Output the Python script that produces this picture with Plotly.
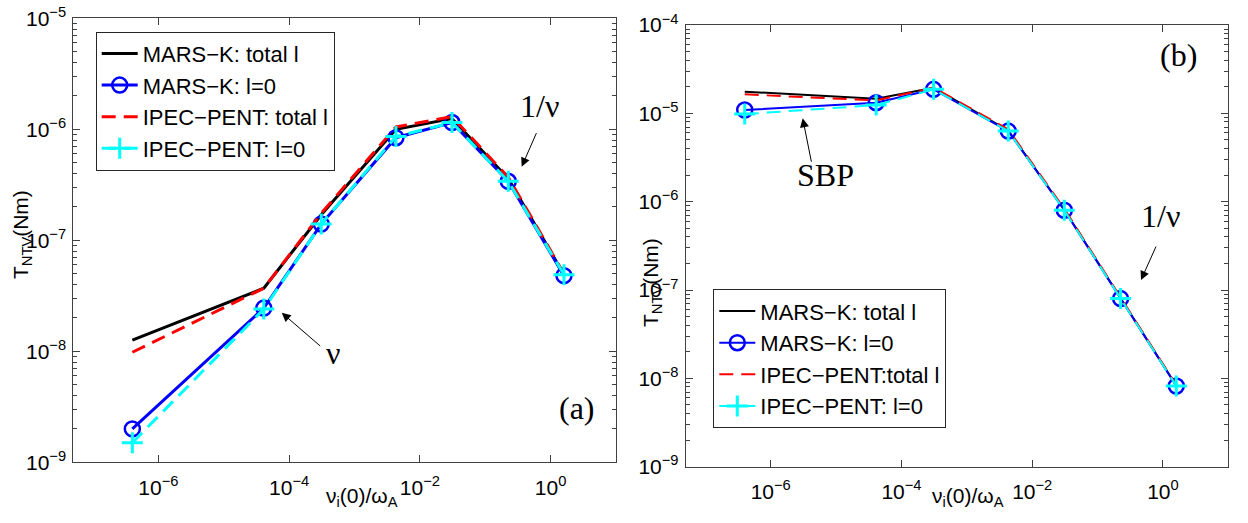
import plotly.graph_objects as go
import math

# ---- data ----
nu = [4.0e-7, 4.1e-5, 3.1e-4, 4.3e-3, 3.1e-2, 0.225, 1.6]

a_mars_total = [1.26e-8, 3.7e-8, 1.7e-7, 1.0e-6, 1.25e-6, 3.6e-7, 4.9e-8]
a_mars_l0 = [2.0e-9, 2.45e-8, 1.4e-7, 8.4e-7, 1.15e-6, 3.4e-7, 4.8e-8]
a_ipec_total = [9.8e-9, 3.7e-8, 1.75e-7, 1.05e-6, 1.3e-6, 3.7e-7, 5.0e-8]
a_ipec_l0 = [1.5e-9, 2.4e-8, 1.4e-7, 8.6e-7, 1.15e-6, 3.4e-7, 4.9e-8]

b_mars_total = [1.76e-5, 1.46e-5, 1.95e-5, 6.4e-6, 8.1e-7, 8.1e-8, 8.3e-9]
b_mars_l0 = [1.09e-5, 1.32e-5, 1.87e-5, 6.3e-6, 8.0e-7, 8.0e-8, 8.2e-9]
b_ipec_total = [1.64e-5, 1.4e-5, 1.95e-5, 6.6e-6, 8.3e-7, 8.3e-8, 8.4e-9]
b_ipec_l0 = [9.8e-6, 1.24e-5, 1.87e-5, 6.3e-6, 8.0e-7, 8.0e-8, 8.2e-9]

names_a = ["MARS\u2212K: total l", "MARS\u2212K: l=0", "IPEC\u2212PENT: total l", "IPEC\u2212PENT: l=0"]
names_b = ["MARS\u2212K: total l", "MARS\u2212K: l=0", "IPEC\u2212PENT:total l", "IPEC\u2212PENT: l=0"]

x_tickvals = [1e-6, 1e-4, 1e-2, 1e0]
x_ticktext = ["10<sup>\u22126</sup>", "10<sup>\u22124</sup>", "10<sup>\u22122</sup>", "10<sup>0</sup>"]
ya_tickvals = [1e-9, 1e-8, 1e-7, 1e-6, 1e-5]
ya_ticktext = ["10<sup>\u22129</sup>", "10<sup>\u22128</sup>", "10<sup>\u22127</sup>", "10<sup>\u22126</sup>", "10<sup>\u22125</sup>"]
yb_tickvals = [1e-9, 1e-8, 1e-7, 1e-6, 1e-5, 1e-4]
yb_ticktext = ["10<sup>\u22129</sup>", "10<sup>\u22128</sup>", "10<sup>\u22127</sup>", "10<sup>\u22126</sup>", "10<sup>\u22125</sup>", "10<sup>\u22124</sup>"]

W, H = 1248, 523
SANS = "Liberation Sans, Arial, Helvetica, sans-serif"
SERIF = "Liberation Serif, Times New Roman, serif"

fig = go.Figure()


def add_panel(xax, yax, leg, ys, names, lw):
    styles = [
        dict(color="#000000", dash="solid", marker=None),
        dict(color="#0000FF", dash="solid", marker=dict(symbol="circle-open", size=15, line=dict(width=2.5, color="#0000FF"))),
        dict(color="#FF0000", dash="14px,8px", marker=None),
        dict(color="#00FFFF", dash="14px,8px", marker=dict(symbol="cross-thin-open", size=15, line=dict(width=3, color="#00FFFF"))),
    ]
    for y, name, st in zip(ys, names, styles):
        mode = "lines+markers" if st["marker"] else "lines"
        tr = dict(x=nu, y=y, name=name, mode=mode, xaxis=xax, yaxis=yax, legend=leg,
                  line=dict(color=st["color"], width=lw, dash=st["dash"]))
        if st["marker"]:
            tr["marker"] = st["marker"]
        fig.add_trace(go.Scatter(**tr))


add_panel("x", "y", "legend", [a_mars_total, a_mars_l0, a_ipec_total, a_ipec_l0], names_a, 3)
add_panel("x2", "y2", "legend2", [b_mars_total, b_mars_l0, b_ipec_total, b_ipec_l0], names_b, 2)

axcol = "#404040"
common = dict(type="log", showline=True, linecolor=axcol, linewidth=1, mirror="allticks",
              ticks="inside", ticklen=7, tickcolor=axcol, showgrid=False, zeroline=False,
              tickfont=dict(family=SANS, size=21, color="black"), automargin=False)


def minor_vals(lo, hi):
    return [m * 10 ** e for e in range(lo, hi) for m in range(2, 10)]


xr = [math.log10(5e-8), 1]
legfont = dict(family=SANS, size=22, color="black")
fig.update_layout(
    width=W, height=H, margin=dict(l=0, r=0, t=0, b=0),
    paper_bgcolor="white", plot_bgcolor="white",
    xaxis=dict(common, domain=[73.3 / W, 616 / W], range=xr, tickvals=x_tickvals, ticktext=x_ticktext,
               anchor="y", ticklabelstandoff=6),
    yaxis=dict(common, domain=[1 - 462.3 / H, 1 - 18.3 / H], range=[-9, -5], tickvals=ya_tickvals,
               ticktext=ya_ticktext, anchor="x", ticklabelstandoff=2,
               minor=dict(tickvals=minor_vals(-9, -5), ticks="inside", ticklen=4, tickcolor=axcol)),
    xaxis2=dict(common, domain=[685.7 / W, 1228.3 / W], range=xr, tickvals=x_tickvals, ticktext=x_ticktext,
                anchor="y2", ticklabelstandoff=6),
    yaxis2=dict(common, domain=[1 - 466.7 / H, 1 - 25 / H], range=[-9, -4], tickvals=yb_tickvals,
                ticktext=yb_ticktext, anchor="x2", ticklabelstandoff=2,
                minor=dict(tickvals=minor_vals(-9, -4), ticks="inside", ticklen=4, tickcolor=axcol)),
    legend=dict(x=95.7 / W, y=1 - 31.7 / H, xanchor="left", yanchor="top", bgcolor="white",
                bordercolor="#262626", borderwidth=1, font=legfont, itemwidth=36),
    legend2=dict(x=713.3 / W, y=1 - 289.3 / H, xanchor="left", yanchor="top", bgcolor="white",
                 bordercolor="#262626", borderwidth=1, font=legfont, itemwidth=36),
    showlegend=True,
)


def px(xp, yp):
    return xp / W, 1 - yp / H


annots = []
# axis titles
for (xp, yp) in [(22, 235), (652, 283)]:
    x, y = px(xp, yp)
    annots.append(dict(text="T<sub>NTV</sub>(Nm)", x=x, y=y, xref="paper", yref="paper", textangle=-90,
                       showarrow=False, font=dict(family=SANS, size=21, color="black"),
                       xanchor="center", yanchor="middle"))
for (xp, yp) in [(362, 497), (968, 497)]:
    x, y = px(xp, yp)
    annots.append(dict(text="\u03bd<sub>i</sub>(0)/\u03c9<sub>A</sub>", x=x, y=y, xref="paper", yref="paper",
                       showarrow=False, font=dict(family=SANS, size=21, color="black"),
                       xanchor="center", yanchor="middle"))
# text labels
for (t, xp, yp) in [("1/\u03bd", 539, 106), ("\u03bd", 333, 353), ("(a)", 577, 408),
                    ("(b)", 1178, 55), ("SBP", 825, 175), ("1/\u03bd", 1160, 216)]:
    x, y = px(xp, yp)
    annots.append(dict(text=t, x=x, y=y, xref="paper", yref="paper", showarrow=False,
                       font=dict(family=SERIF, size=32, color="black"), xanchor="center", yanchor="middle"))
# arrows: head (hx, hy), tail (tx, ty)
for (hx, hy, tx, ty) in [(521.7, 166.7, 537, 131.7), (281.7, 312.7, 321.7, 347.3),
                         (802.7, 118.3, 811.7, 163.3), (1141, 280, 1156.7, 245)]:
    x, y = px(hx, hy)
    annots.append(dict(text="", x=x, y=y, xref="paper", yref="paper", showarrow=True,
                       ax=tx - hx, ay=ty - hy, axref="pixel", ayref="pixel",
                       arrowhead=2, arrowsize=1.8, arrowwidth=1, arrowcolor="black"))
fig.update_layout(annotations=annots)

fig.write_html("out.html")
